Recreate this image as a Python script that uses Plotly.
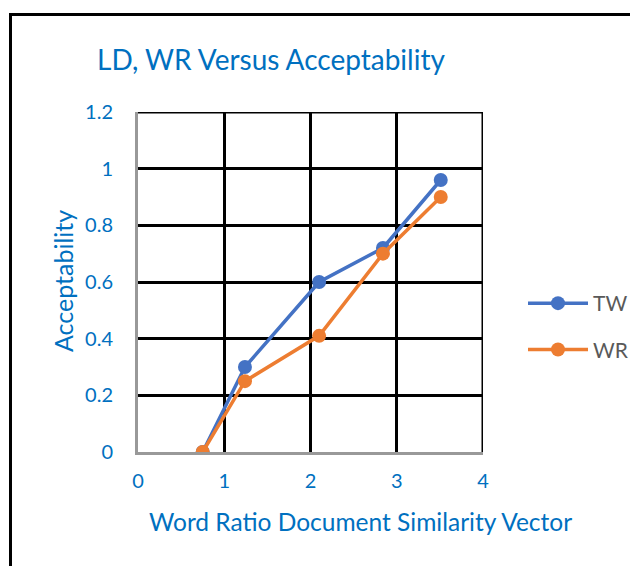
import plotly.graph_objects as go

# Data
tw_x = [0.75, 1.24, 2.10, 2.84, 3.51]
tw_y = [0.0, 0.30, 0.60, 0.72, 0.96]
wr_x = [0.75, 1.24, 2.10, 2.84, 3.51]
wr_y = [0.0, 0.25, 0.41, 0.70, 0.90]
series_names = ["TW", "WR"]
x_ticks = [0, 1, 2, 3, 4]
y_ticks = [0, 0.2, 0.4, 0.6, 0.8, 1, 1.2]
x_range = [0, 4]
y_range = [0, 1.2]

BLUE_TXT = "#0070C0"
FONT = "Lato"
OFF = 8  # browser body margin

fig = go.Figure()
fig.add_trace(go.Scatter(x=tw_x, y=tw_y, name=series_names[0], mode="lines+markers",
                         line=dict(color="#4472C4", width=3.5),
                         marker=dict(size=14, color="#4472C4"), legendgroup="a"))
fig.add_trace(go.Scatter(x=wr_x, y=wr_y, name=series_names[1], mode="lines+markers",
                         line=dict(color="#ED7D31", width=3.5),
                         marker=dict(size=14, color="#ED7D31"), legendgroup="b"))

L, R, T, B = 138 - OFF, 483 - OFF, 112 - OFF, 452 - OFF
W, H = 638, 566
pw, ph = R - L, B - T

def px(x):
    return (x - OFF - L) / pw

def py(y):
    return (B - (y - OFF)) / ph

fig.update_layout(
    width=W, height=H,
    margin=dict(l=L, r=W - R, t=T, b=H - B, pad=0),
    paper_bgcolor="white", plot_bgcolor="white",
    font=dict(family=FONT, color=BLUE_TXT),
    showlegend=True,
    legend=dict(x=px(523), y=py(283), xanchor="left", yanchor="top",
                font=dict(size=21, color="#595959", family=FONT),
                tracegroupgap=16, itemwidth=60, bgcolor="rgba(0,0,0,0)"),
    xaxis=dict(range=x_range, tickvals=x_ticks, showgrid=True, gridcolor="black", gridwidth=3,
               zeroline=False, showline=True, linecolor="#999999", linewidth=3,
               ticks="", tickfont=dict(size=20, color=BLUE_TXT, family=FONT),
               ticklabelstandoff=9, fixedrange=True),
    yaxis=dict(range=y_range, tickvals=y_ticks, showgrid=True, gridcolor="black", gridwidth=3,
               zeroline=False, showline=True, linecolor="#999999", linewidth=3,
               ticks="", tickfont=dict(size=20, color=BLUE_TXT, family=FONT),
               ticklabelstandoff=18, fixedrange=True),
)

# gridlines at the far edges of the plot area (plotly omits them)
fig.add_shape(type="line", xref="x", yref="y", x0=x_range[0], x1=x_range[1],
              y0=y_range[1], y1=y_range[1], line=dict(color="black", width=3), layer="below")
fig.add_shape(type="line", xref="x", yref="y", x0=x_range[1], x1=x_range[1],
              y0=y_range[0], y1=y_range[1], line=dict(color="black", width=3), layer="below")

# outer chart frame (extends beyond the visible window on right/bottom)
fig.add_shape(type="rect", xref="paper", yref="paper",
              x0=px(10.5), y0=py(700), x1=px(800), y1=py(14.5),
              line=dict(color="black", width=3), layer="above")

fig.add_annotation(text="LD, WR Versus Acceptability", xref="paper", yref="paper",
                   x=px(271), y=py(59), showarrow=False, xanchor="center", yanchor="middle",
                   font=dict(size=28, color=BLUE_TXT, family=FONT))
fig.add_annotation(text="Acceptability", xref="paper", yref="paper",
                   x=px(63), y=py(281), showarrow=False, textangle=-90,
                   xanchor="center", yanchor="middle",
                   font=dict(size=25, color=BLUE_TXT, family=FONT))
fig.add_annotation(text="Word Ratio Document Similarity Vector", xref="paper", yref="paper",
                   x=px(360), y=py(521), showarrow=False, xanchor="center", yanchor="middle",
                   font=dict(size=24.5, color=BLUE_TXT, family=FONT))

fig.write_html("out.html")
